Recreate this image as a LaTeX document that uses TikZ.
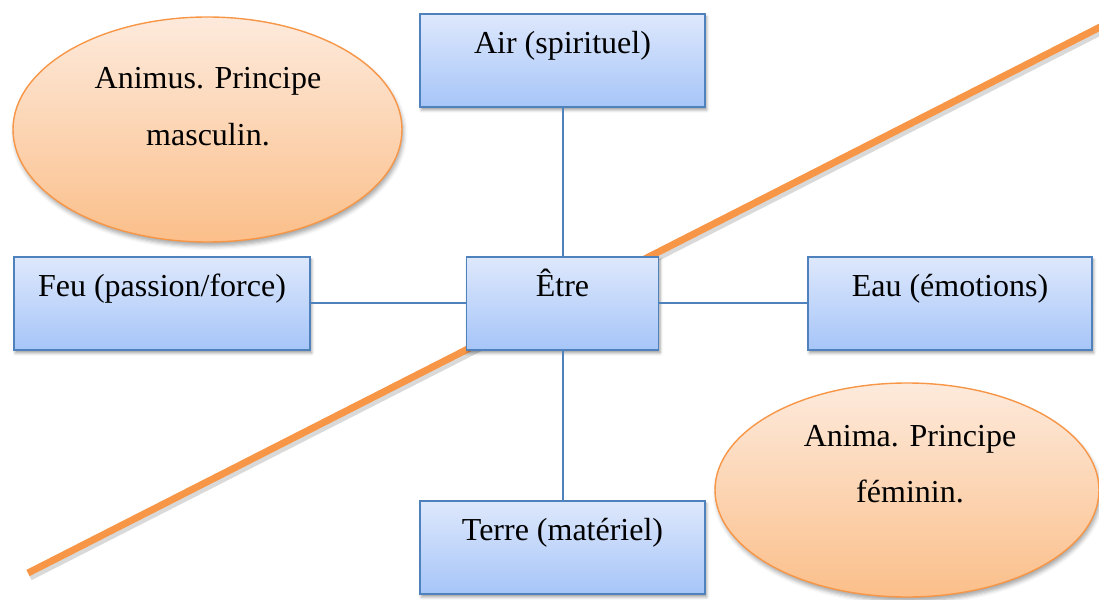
\documentclass[tikz,border=0pt]{standalone}
\usepackage{fontspec}
\setmainfont{Liberation Serif}
\usetikzlibrary{shapes.geometric,shadows.blur}
\definecolor{boxtop}{HTML}{DEE8FC}
\definecolor{boxbot}{HTML}{A6C5F8}
\definecolor{boxline}{HTML}{4F81BD}
\definecolor{elltop}{HTML}{FDEADC}
\definecolor{ellbot}{HTML}{FBBF8A}
\definecolor{orangeline}{HTML}{F79646}
\tikzset{
  elembox/.style={draw=boxline, line width=1.8pt, top color=boxtop, bottom color=boxbot,
    rectangle, inner xsep=0pt, inner ysep=0pt, text height=40pt, text depth=53pt,
    anchor=north, font=\fontsize{32}{38}\selectfont,
    blur shadow={shadow xshift=1.5pt, shadow yshift=-3pt, shadow blur radius=3pt, shadow opacity=40}},
  principle/.style={ellipse, draw=orangeline, line width=1.4pt, top color=elltop, bottom color=ellbot,
    inner sep=0pt,
    blur shadow={shadow xshift=1.5pt, shadow yshift=-4pt, shadow blur radius=4pt, shadow opacity=35}},
  principletext/.style={align=center, anchor=base, font=\fontsize{32}{56}\selectfont},
  link/.style={draw=boxline, line width=2pt},
  divider/.style={draw=orangeline, line width=7pt},
  dividershadow/.style={draw=black!60, opacity=0.25, line width=7pt}
}
\begin{document}
\begin{tikzpicture}[x=1pt,y=-1pt]
\useasboundingbox (0,0) rectangle (1099,599);
% dividing line
\coordinate (lineA) at (28,573);
\coordinate (lineB) at (1110,22);
\coordinate (lineAs) at (30,577);
\coordinate (lineBs) at (1112,26);
\draw[dividershadow] (lineAs) -- (lineBs);
\draw[divider] (lineA) -- (lineB);
% ellipses
\node[principle, minimum width=389pt, minimum height=225pt] (animus) at (207.5,129.5) {};
\node[principletext] (animustext) at (208,145) {Animus. Principe\\masculin.};
\node[principle, minimum width=384pt, minimum height=214pt] (anima) at (907,490) {};
\node[principletext] (animatext) at (910,502) {Anima. Principe\\féminin.};
% boxes
\node[elembox, minimum width=285pt] (air) at (562.5,13) {Air (spirituel)};
\node[elembox, minimum width=192pt] (etre) at (562.5,256) {Être};
\node[elembox, minimum width=296pt] (feu) at (162,256) {Feu (passion/force)};
\node[elembox, minimum width=284pt] (eau) at (950,256) {Eau (émotions)};
\node[elembox, minimum width=285pt] (terre) at (562.5,500) {Terre (matériel)};
% connectors
\draw[link] (air.south) -- (etre.north);
\draw[link] (etre.south) -- (terre.north);
\draw[link] (feu.east) -- (etre.west);
\draw[link] (etre.east) -- (eau.west);
\end{tikzpicture}
\end{document}
